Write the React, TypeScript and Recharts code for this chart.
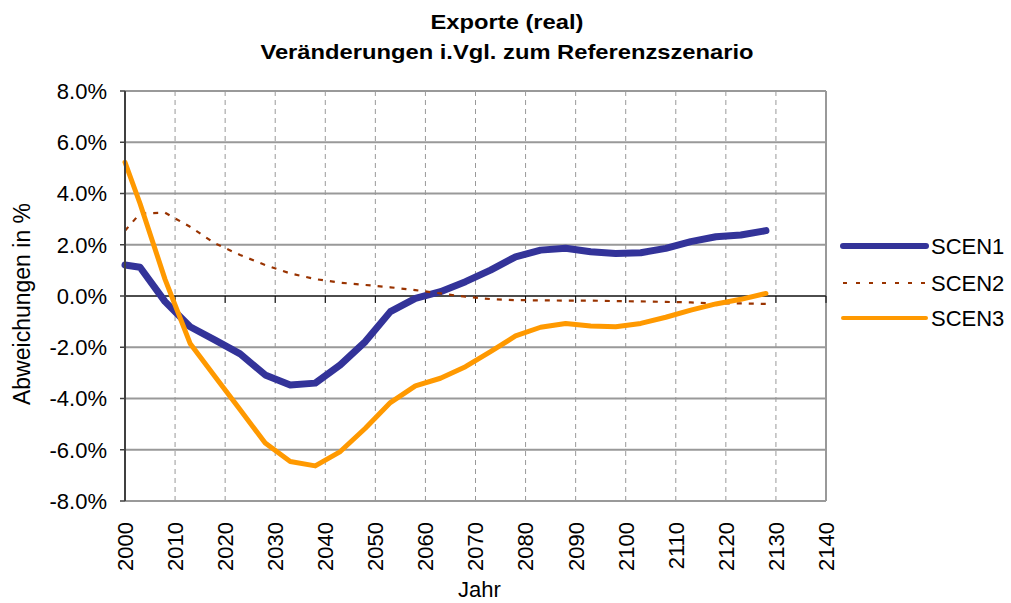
import { CartesianGrid, Label, Line, LineChart, ReferenceLine, XAxis, YAxis } from "recharts";

// Jahr der Stützstellen (Abstand 5 Jahre, erste Stützstelle 2000)
const years = [
  2000, 2003, 2008, 2013, 2018, 2023, 2028, 2033, 2038, 2043, 2048, 2053, 2058, 2063,
  2068, 2073, 2078, 2083, 2088, 2093, 2098, 2103, 2108, 2113, 2118, 2123, 2128,
];

// Abweichungen in % ggü. Referenzszenario
const scen1 = [
  1.21, 1.12, -0.22, -1.2, -1.72, -2.26, -3.08, -3.47, -3.4, -2.69, -1.78, -0.61, -0.09, 0.17,
  0.56, 1.01, 1.53, 1.79, 1.86, 1.73, 1.66, 1.69, 1.86, 2.12, 2.31, 2.38, 2.55,
];
const scen2 = [
  2.55, 3.22, 3.25, 2.7, 2.05, 1.6, 1.21, 0.88, 0.66, 0.52, 0.43, 0.34, 0.23, 0.1,
  -0.03, -0.12, -0.16, -0.17, -0.18, -0.18, -0.2, -0.21, -0.23, -0.25, -0.29, -0.29, -0.31,
];
const scen3 = [
  5.22, 3.61, 0.65, -1.85, -3.15, -4.44, -5.74, -6.46, -6.63, -6.07, -5.16, -4.16, -3.51, -3.21,
  -2.76, -2.17, -1.56, -1.22, -1.07, -1.17, -1.2, -1.07, -0.83, -0.55, -0.31, -0.13, 0.1,
];

const xTicks = [2000, 2010, 2020, 2030, 2040, 2050, 2060, 2070, 2080, 2090, 2100, 2110, 2120, 2130, 2140];
const yTicks = [-8, -6, -4, -2, 0, 2, 4, 6, 8];

const series = [
  { key: "SCEN1", color: "#333399", width: 7, dash: undefined },
  { key: "SCEN2", color: "#993300", width: 2.2, dash: "5 7" },
  { key: "SCEN3", color: "#FF9900", width: 5, dash: undefined },
];

const data = years.map((jahr, i) => ({ jahr, SCEN1: scen1[i], SCEN2: scen2[i], SCEN3: scen3[i] }));

const FONT = '"Liberation Sans", Arial, Helvetica, sans-serif';

function YearTick({ x, y, payload }: any) {
  return (
    <text
      x={x}
      y={y}
      transform={`rotate(-90, ${x}, ${y})`}
      textAnchor="end"
      dy="0.36em"
      fontSize={22}
      fontFamily={FONT}
      fill="#000"
    >
      {payload.value}
    </text>
  );
}

export default function App() {
  return (
    <div style={{ position: "absolute", left: 0, top: 0, width: 1011, height: 603, background: "#fff", fontFamily: FONT }}>
      <div
        style={{
          position: "absolute",
          left: 0,
          top: 7,
          width: 1014,
          textAlign: "center",
          fontWeight: "bold",
          fontSize: 21,
          lineHeight: "30px",
          color: "#000",
          transform: "scaleX(1.13)",
          transformOrigin: "507px 0",
        }}
      >
        <div>Exporte (real)</div>
        <div>Veränderungen i.Vgl. zum Referenzszenario</div>
      </div>

      <LineChart width={1011} height={603} data={data} margin={{ top: 91, right: 185, bottom: 0, left: 0 }}>
        <CartesianGrid vertical={false} stroke="#999" strokeWidth={2} />
        <CartesianGrid horizontal={false} stroke="#999" strokeWidth={1} strokeDasharray="5 4" />
        <XAxis
          dataKey="jahr"
          type="number"
          domain={[2000, 2140]}
          ticks={xTicks}
          interval={0}
          height={102}
          axisLine={false}
          tickLine={false}
          tickSize={0}
          tickMargin={21}
          tick={<YearTick />}
        >
          <Label
            content={({ viewBox }: any) => (
              <text
                x={viewBox.x + viewBox.width / 2 + 4}
                y={viewBox.y + 96}
                textAnchor="middle"
                fontSize={22}
                fontFamily={FONT}
                fill="#000"
              >
                Jahr
              </text>
            )}
          />
        </XAxis>
        <YAxis
          type="number"
          domain={[-8, 8]}
          ticks={yTicks}
          interval={0}
          width={125}
          tickSize={5}
          tickMargin={13}
          tickFormatter={(v: number) => `${v.toFixed(1)}%`}
          tick={{ fontSize: 22, fill: "#000", fontFamily: FONT }}
          axisLine={{ stroke: "#404040", strokeWidth: 2 }}
          tickLine={{ stroke: "#404040", strokeWidth: 1.5 }}
        >
          <Label
            content={({ viewBox }: any) => {
              const cx = viewBox.x + 22;
              const cy = viewBox.y + viewBox.height / 2 + 8;
              return (
                <text
                  x={cx}
                  y={cy}
                  transform={`rotate(-90, ${cx}, ${cy})`}
                  textAnchor="middle"
                  dy="0.36em"
                  fontSize={23}
                  fontFamily={FONT}
                  fill="#000"
                >
                  Abweichungen in %
                </text>
              );
            }}
          />
        </YAxis>
        <ReferenceLine x={2140} stroke="#999" strokeWidth={2} />
        <ReferenceLine y={0} stroke="#000" strokeWidth={1} />
        {xTicks.map((t) => (
          <ReferenceLine
            key={t}
            segment={[
              { x: t, y: 0 },
              { x: t, y: -0.27 },
            ]}
            stroke="#000"
            strokeWidth={1}
          />
        ))}
        {series.map((s) => (
          <Line
            key={s.key}
            dataKey={s.key}
            type="linear"
            stroke={s.color}
            strokeWidth={s.width}
            strokeDasharray={s.dash}
            strokeLinejoin="round"
            strokeLinecap={s.dash ? "butt" : "round"}
            dot={false}
            activeDot={false}
            isAnimationActive={false}
          />
        ))}
      </LineChart>

      <svg style={{ position: "absolute", left: 0, top: 0 }} width={1011} height={603} pointerEvents="none">
        {series.map((s, i) => {
          const y = [246, 283, 318][i];
          return (
            <g key={s.key}>
              <line
                x1={843}
                x2={926}
                y1={y}
                y2={y}
                stroke={s.color}
                strokeWidth={s.dash ? 2.2 : s.width - 1}
                strokeDasharray={s.dash ? "4 9" : undefined}
                strokeLinecap={s.dash ? "butt" : "round"}
              />
              <text x={931} y={y} dy="0.36em" fontSize={22} fontFamily={FONT} fill="#000">
                {s.key}
              </text>
            </g>
          );
        })}
      </svg>
    </div>
  );
}
